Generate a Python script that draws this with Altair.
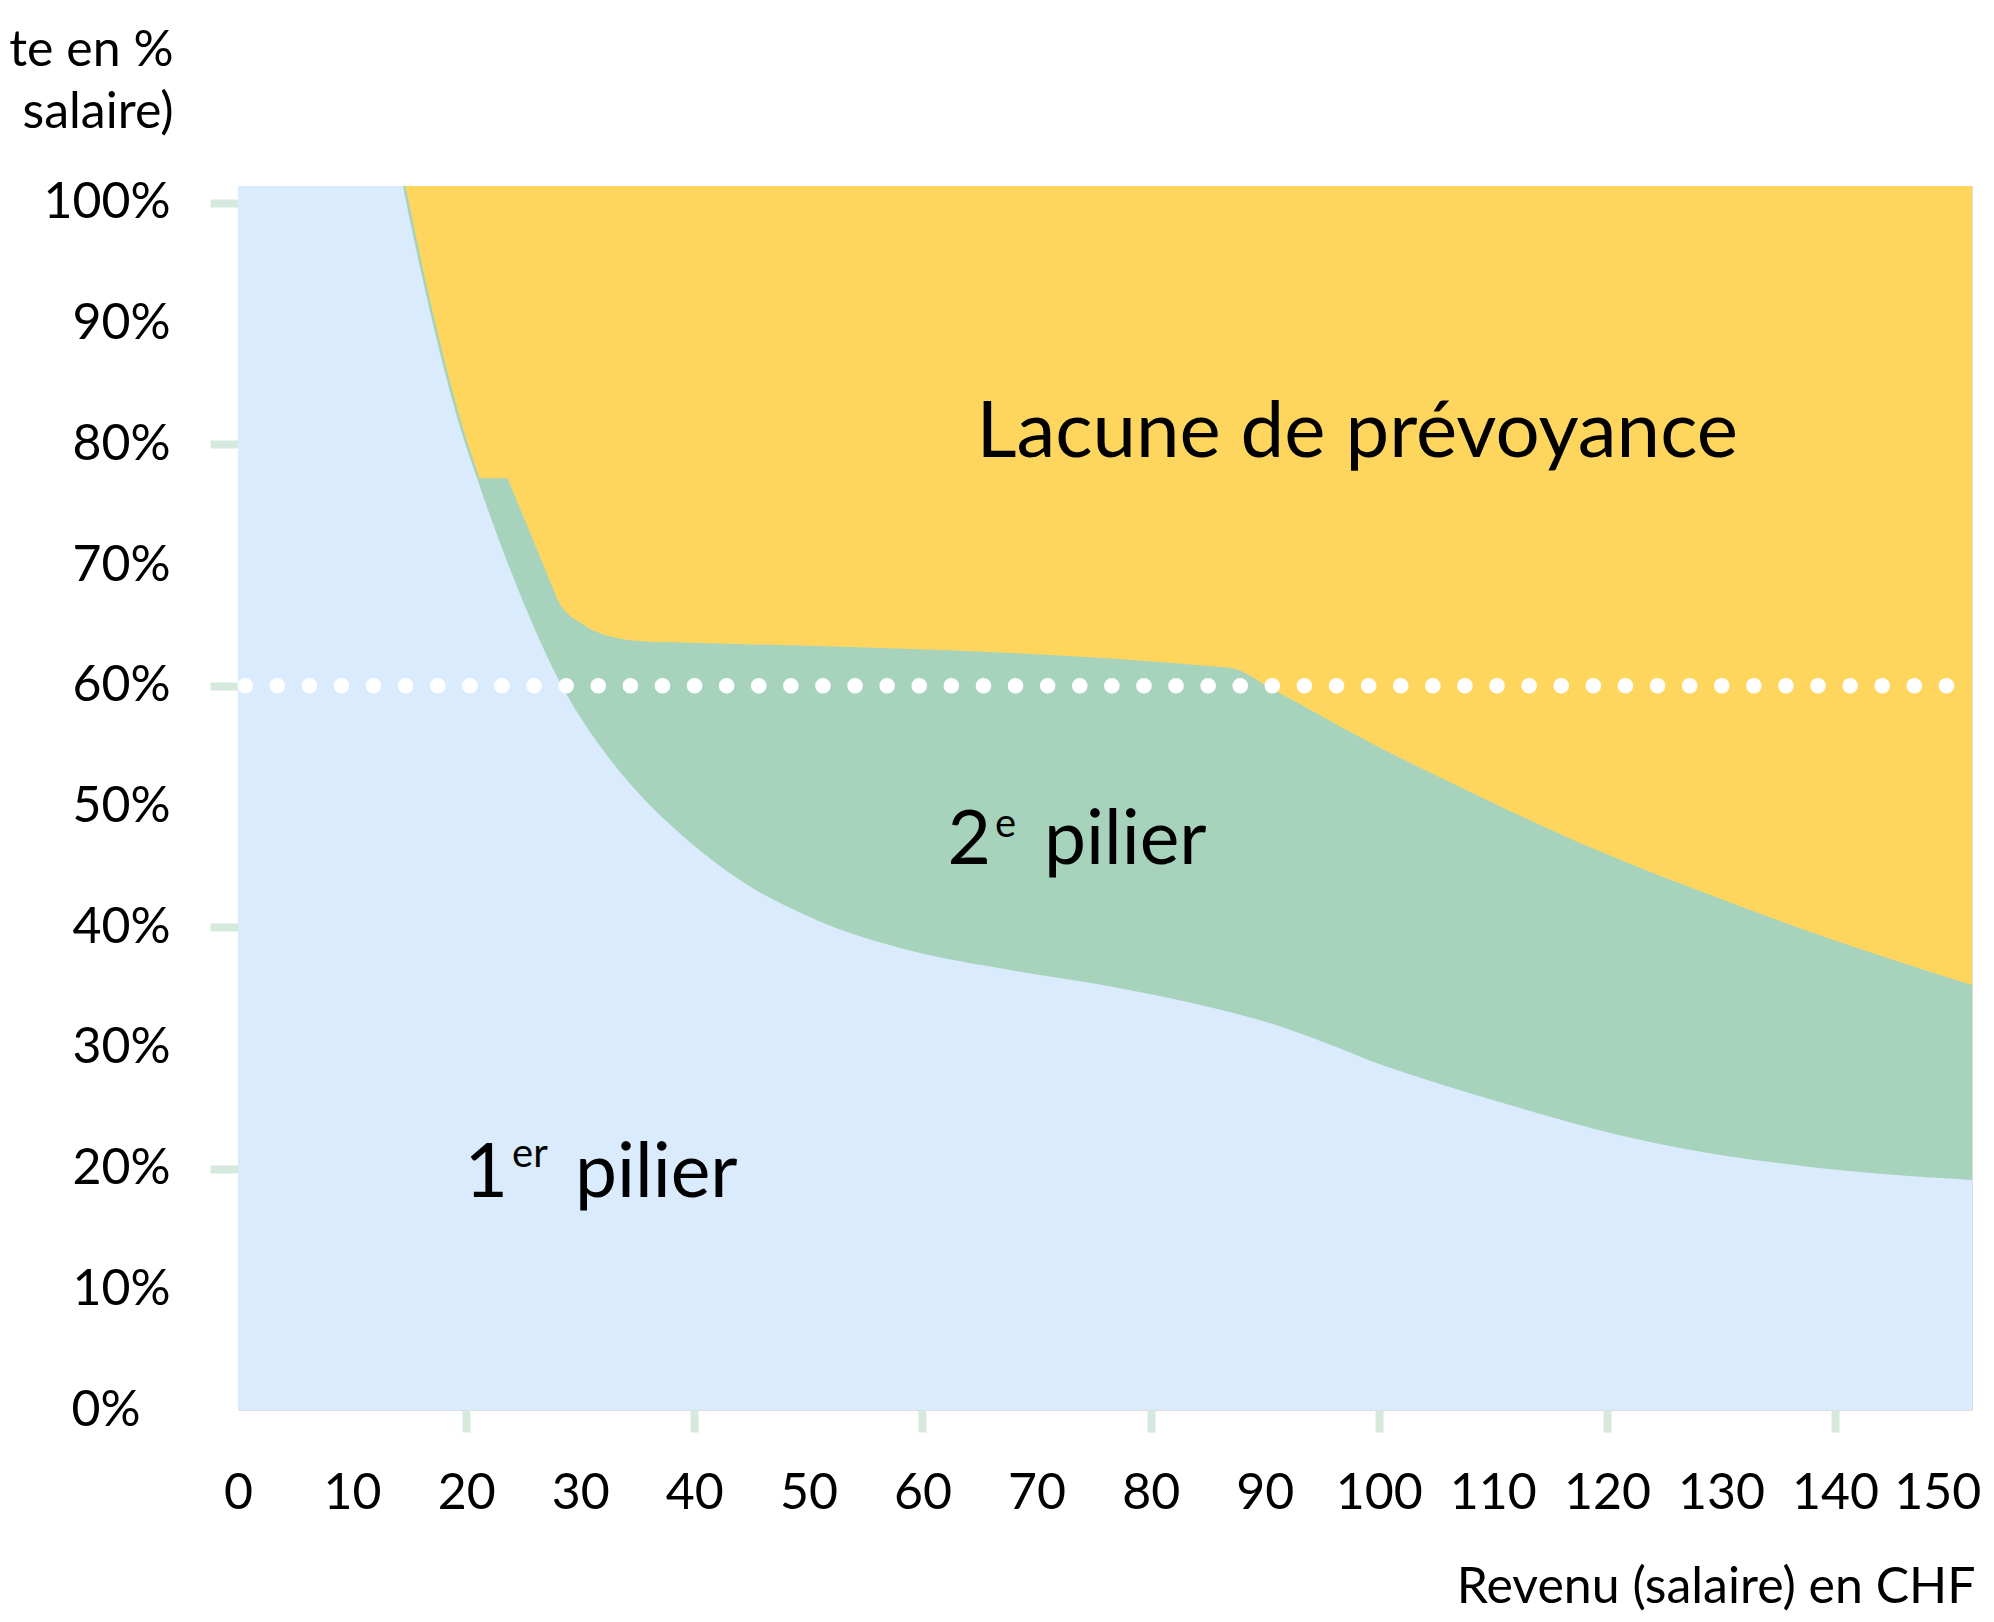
import altair as alt
import pandas as pd

FONT = "Lato"
BLUE = "#d9ebfc"
GREEN = "#a7d3bc"
YELLOW = "#fed65e"
TICK = "#d5e9dd"

# axis values
x_ticks = list(range(0, 151, 10))
y_ticks = list(range(0, 101, 10))
x_max = 152
y_max = 101.4

# 1er pilier : upper edge (revenu en kCHF -> % du salaire)
p1_x = [0, 14.46, 14.56, 15.95, 17.71, 19.46, 20.95, 24.72, 28.40, 32.00, 34.60, 39.07,
        44.43, 50.69, 58.75, 67.69, 76.63, 85.58, 90.98, 95.43, 99.86, 105.63, 110.96,
        117.61, 124.27, 130.93, 137.59, 144.24, 152]
p1_y = [101.4, 101.4, 100.93, 94.70, 87.57, 81.44, 77.18, 67.61, 59.98, 54.68, 51.64, 47.50,
        43.64, 40.60, 38.11, 36.45, 35.07, 33.28, 31.90, 30.38, 28.72, 26.93, 25.41,
        23.61, 22.10, 20.99, 20.16, 19.55, 19.06]

# 1er + 2e pilier : upper edge (from where it leaves the 1er pilier)
p2_x = [20.95, 23.64, 23.74, 27.92, 28.02, 30.27, 33.20, 36.11, 38.17, 86.9, 90.80, 98.82,
        108.25, 117.69, 127.12, 136.56, 146.0, 152]
p2_y = [77.18, 77.18, 76.95, 67.36, 67.13, 65.07, 63.96, 63.65, 63.6, 61.5, 59.65, 55.51,
        51.09, 46.95, 43.36, 40.04, 37.01, 35.21]

# lacune de prévoyance : up to the top
gap_x = [0, 152]
gap_y = [101.4, 101.4]

# 60 % target line
target_x = [0]
target_x2 = [152]
target_y = [60]

# annotations: text, x, y (baseline), size, align
ann_text = ["Lacune de prévoyance", "2", "e", "pilier", "1", "er", "pilier"]
ann_x = [98.1, 66.01, 66.36, 70.65, 23.67, 24.02, 29.54]
ann_y = [78.93, 45.24, 47.47, 45.24, 17.62, 20.09, 17.62]
ann_size = [78, 75, 40, 75, 75, 40, 75]
ann_align = ["center", "right", "left", "left", "right", "left", "left"]

xscale = alt.Scale(domain=[0, x_max], nice=False, zero=False)
yscale = alt.Scale(domain=[0, y_max], nice=False, zero=False)

tick_cond = {"condition": {"test": "datum.value % 20 === 0 && datum.value > 0", "value": 1}, "value": 0}

xaxis = alt.Axis(
    values=x_ticks, grid=False, domain=False,
    labelFont=FONT, labelFontSize=50, labelColor="#000000", labelPadding=36,
    labelFlush=False, labelOverlap=False, labelBound=False,
    labelOffset={"condition": {"test": "datum.value === 150", "value": -12}, "value": 0},
    tickColor=TICK, tickWidth=8, tickSize=22, tickCap="butt", tickOpacity=tick_cond,
    title="Revenu (salaire) en CHF", titleFont=FONT, titleFontSize=50,
    titleFontWeight="normal", titleColor="#000000",
    titleX=1737, titleY=192, titleAlign="right", titleBaseline="alphabetic",
)
yaxis = alt.Axis(
    values=y_ticks, grid=False, domain=False,
    labelExpr="datum.value + '%'",
    labelFont=FONT, labelFontSize=50, labelColor="#000000",
    labelPadding={"condition": {"test": "datum.value === 0", "value": 70}, "value": 40},
    labelOverlap=False, labelBound=False, labelFlush=False,
    tickColor=TICK, tickWidth=8, tickSize=28, tickCap="butt", tickOpacity=tick_cond,
    title=["Rente en %", "(du salaire)"], titleFont=FONT, titleFontSize=50,
    titleFontWeight="normal", titleColor="#000000", titleAngle=0,
    titleX=-65, titleY=-121, titleAlign="right", titleBaseline="alphabetic",
    titleLineHeight=62,
)

X = alt.X("x:Q", scale=xscale, axis=xaxis)
Y = alt.Y("y:Q", scale=yscale, axis=yaxis)

gap_df = pd.DataFrame({"x": gap_x, "y": gap_y})
p2_df = pd.DataFrame({"x": p2_x, "y": p2_y})
p1_df = pd.DataFrame({"x": p1_x, "y": p1_y})
target_df = pd.DataFrame({"x": target_x, "x2": target_x2, "y": target_y})

gap = alt.Chart(gap_df).mark_area(color=YELLOW, interpolate="linear").encode(x=X, y=Y)
p2 = alt.Chart(p2_df).mark_area(color=GREEN, interpolate="monotone").encode(x=X, y=Y)
# thin sliver of 2e pilier along the steep part of the 1er pilier edge
sliver = alt.Chart(p1_df).transform_filter(
    "datum.x >= 14.46 && datum.x <= 21"
).mark_line(color=GREEN, strokeWidth=5, interpolate="monotone").encode(x=X, y=Y)
p1 = alt.Chart(p1_df).mark_area(color=BLUE, interpolate="monotone").encode(x=X, y=Y)
target = alt.Chart(target_df).mark_rule(
    color="white", strokeWidth=15.5, strokeCap="round", strokeDash=[0.1, 32], strokeDashOffset=25
).encode(x=X, x2="x2:Q", y=Y)

texts = []
for t, x, y, s, a in zip(ann_text, ann_x, ann_y, ann_size, ann_align):
    df = pd.DataFrame({"x": [x], "y": [y], "t": [t]})
    texts.append(
        alt.Chart(df).mark_text(
            font=FONT, fontSize=s, align=a, baseline="alphabetic", color="#000000"
        ).encode(x=X, y=Y, text="t:N")
    )

chart = alt.layer(gap, p2, sliver, p1, target, *texts).properties(
    width=1734,
    height=1224,
    autosize=alt.AutoSizeParams(type="none"),
    padding={"left": 230, "top": 178, "right": 14, "bottom": 204},
).configure_view(stroke=None).configure(background="white")

chart.save("out.html", embed_options={"renderer": "svg", "actions": False})
